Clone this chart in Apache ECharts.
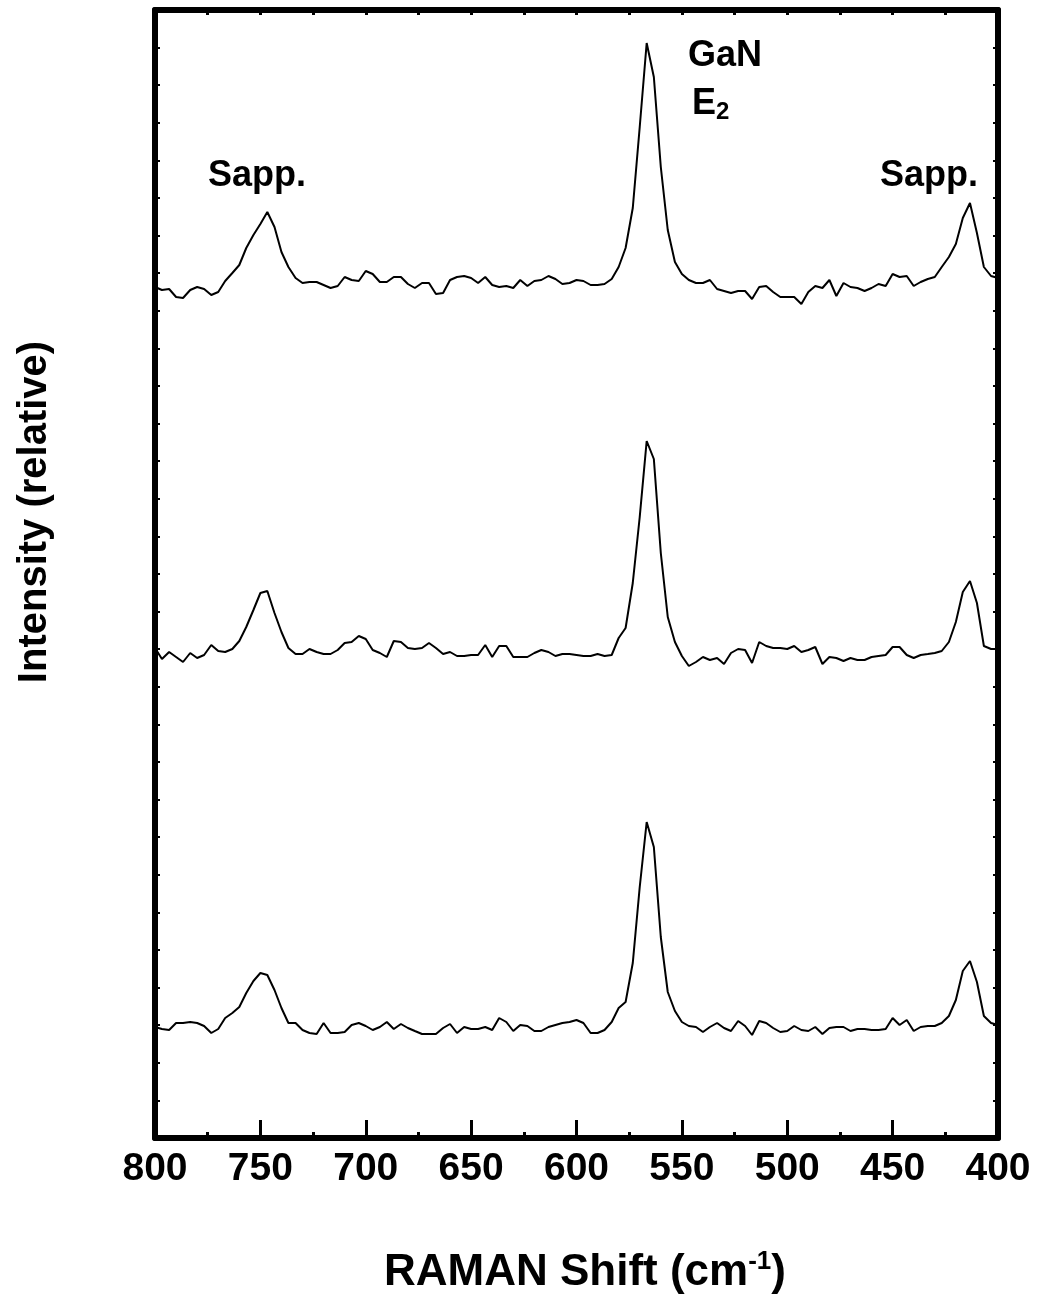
<!DOCTYPE html>
<html>
<head>
<meta charset="utf-8">
<script src="https://cdn.jsdelivr.net/npm/echarts@6/dist/echarts.min.js"></script>
<style>
  html, body { margin: 0; padding: 0; background: #fff; }
  #chart { width: 1040px; height: 1308px; }
</style>
</head>
<body>
<div id="chart"></div>
<script>
// Raman shift (cm-1), same grid for all three spectra
var shift = [
  800, 796.7, 793.3, 790, 786.7, 783.3, 780, 776.7, 773.3, 770,
  766.7, 763.3, 760, 756.7, 753.3, 750, 746.7, 743.3, 740, 736.7,
  733.3, 730, 726.7, 723.3, 720, 716.7, 713.3, 710, 706.7, 703.3,
  700, 696.7, 693.3, 690, 686.7, 683.3, 680, 676.7, 673.3, 670,
  666.7, 663.3, 660, 656.7, 653.3, 650, 646.7, 643.3, 640, 636.7,
  633.3, 630, 626.7, 623.3, 620, 616.7, 613.3, 610, 606.7, 603.3,
  600, 596.7, 593.3, 590, 586.7, 583.3, 580, 576.7, 573.3, 570,
  566.7, 563.3, 560, 556.7, 553.3, 550, 546.7, 543.3, 540, 536.7,
  533.3, 530, 526.7, 523.3, 520, 516.7, 513.3, 510, 506.7, 503.3,
  500, 496.7, 493.3, 490, 486.7, 483.3, 480, 476.7, 473.3, 470,
  466.7, 463.3, 460, 456.7, 453.3, 450, 446.7, 443.3, 440, 436.7,
  433.3, 430, 426.7, 423.3, 420, 416.7, 413.3, 410, 406.7, 403.3,
  400
];

// relative intensity, stacked traces (top, middle, bottom)
var topTrace = [
  851, 848, 849, 841, 840, 848, 851, 849, 843, 846,
  857, 865, 873, 890, 903, 914, 926, 911, 886, 871,
  860, 855, 856, 856, 853, 850, 852, 861, 858, 857,
  867, 864, 856, 856, 861, 861, 854, 850, 855, 855,
  844, 845, 858, 861, 862, 860, 855, 861, 853, 851,
  852, 850, 858, 852, 857, 858, 862, 859, 854, 855,
  858, 857, 853, 853, 854, 859, 871, 890, 930, 1011,
  1095, 1061, 971, 908, 876, 864, 858, 855, 855, 858,
  849, 847, 845, 847, 847, 839, 851, 852, 846, 841,
  841, 841, 834, 846, 852, 850, 858, 842, 855, 851,
  850, 847, 850, 854, 852, 864, 861, 862, 852, 856,
  859, 861, 871, 881, 894, 920, 935, 905, 871, 862,
  860
];

var middleTrace = [
  490, 479, 486, 481, 476, 485, 480, 483, 493, 487,
  486, 489, 497, 511, 528, 545, 547, 525, 506, 490,
  484, 484, 489, 486, 484, 484, 488, 495, 496, 502,
  499, 488, 485, 481, 497, 496, 490, 489, 490, 495,
  490, 484, 486, 482, 482, 483, 483, 493, 481, 492,
  492, 481, 481, 481, 485, 488, 486, 482, 484, 484,
  483, 482, 482, 484, 482, 483, 500, 510, 555, 621,
  697, 679, 585, 521, 496, 482, 472, 476, 481, 478,
  480, 474, 485, 489, 488, 475, 496, 492, 490, 490,
  489, 492, 486, 488, 491, 474, 481, 480, 477, 480,
  478, 478, 481, 482, 483, 491, 491, 483, 480, 483,
  484, 485, 487, 496, 516, 546, 557, 535, 492, 489,
  489
];

var bottomTrace = [
  111, 109, 108, 115, 115, 116, 115, 112, 105, 109,
  120, 125, 131, 145, 157, 165, 163, 148, 130, 115,
  115, 108, 105, 104, 115, 105, 105, 106, 113, 115,
  112, 108, 111, 116, 109, 114, 110, 107, 104, 104,
  104, 110, 114, 105, 111, 109, 109, 111, 108, 120,
  116, 107, 113, 112, 107, 107, 111, 113, 115, 116,
  118, 115, 105, 105, 108, 116, 130, 136, 175, 251,
  316, 291, 201, 146, 127, 116, 112, 111, 106, 111,
  115, 110, 107, 117, 112, 103, 117, 115, 110, 106,
  107, 112, 108, 107, 111, 104, 110, 111, 111, 107,
  109, 109, 108, 108, 109, 120, 113, 118, 107, 111,
  112, 112, 115, 122, 138, 167, 177, 156, 122, 115,
  113
];

var font = '"Liberation Sans", Arial, Helvetica, sans-serif';

function pairs(ys) {
  return shift.map(function (x, i) { return [x, ys[i]]; });
}

function traceSeries(name, ys) {
  return {
    name: name,
    type: 'line',
    data: pairs(ys),
    showSymbol: false,
    lineStyle: { color: '#000', width: 2 },
    z: 2
  };
}

function shiftAxis(pos, step, tickLen, showLine, showLabel) {
  return {
    type: 'value',
    position: pos,
    min: 400,
    max: 800,
    interval: step,
    inverse: true,
    axisLine: { show: showLine, onZero: false, lineStyle: { color: '#000', width: 6 } },
    axisTick: { show: true, inside: true, length: tickLen, lineStyle: { color: '#000', width: 3 } },
    splitLine: { show: false },
    axisLabel: {
      show: showLabel,
      color: '#000',
      fontSize: 39,
      fontWeight: 'bold',
      fontFamily: font,
      margin: 12
    }
  };
}

function intensityAxis(pos) {
  return {
    type: 'value',
    position: pos,
    min: 0,
    max: 1128,
    interval: 37.6,
    axisLine: { show: true, onZero: false, lineStyle: { color: '#000', width: 6 } },
    axisTick: { show: true, inside: true, length: 5, lineStyle: { color: '#000', width: 2 } },
    splitLine: { show: false },
    axisLabel: { show: false }
  };
}

option = {
    backgroundColor: '#fff',
    animation: false,
    grid: {
        left: 155,
        right: 42,
        top: 10,
        bottom: 170
    },
    xAxis: [
        shiftAxis('bottom', 50, 18, true, true),
        shiftAxis('bottom', 25, 6, false, false),
        shiftAxis('top', 25, 5, true, false)
    ],
    yAxis: [
        intensityAxis('left'),
        intensityAxis('right')
    ],
    series: [
        traceSeries('top', topTrace),
        traceSeries('middle', middleTrace),
        traceSeries('bottom', bottomTrace)
    ],
    graphic: [
        {
            type: 'text', x: 35, y: 512, rotation: Math.PI / 2,
            style: { text: 'Intensity (relative)', font: 'bold 40px ' + font, fill: '#000', align: 'center', verticalAlign: 'middle' }
        },
        {
            type: 'text', x: 585, y: 1273,
            style: {
                text: '{b|RAMAN Shift (cm}{s|-1}{b|)}',
                align: 'center', verticalAlign: 'middle',
                rich: {
                    b: { font: 'bold 44px ' + font, fill: '#000' },
                    s: { font: 'bold 26px ' + font, fill: '#000', padding: [0, 0, 22, 0] }
                }
            }
        },
        {
            type: 'text', x: 208, y: 176,
            style: { text: 'Sapp.', font: 'bold 36px ' + font, fill: '#000', align: 'left', verticalAlign: 'middle' }
        },
        {
            type: 'text', x: 880, y: 176,
            style: { text: 'Sapp.', font: 'bold 36px ' + font, fill: '#000', align: 'left', verticalAlign: 'middle' }
        },
        {
            type: 'text', x: 688, y: 56,
            style: { text: 'GaN', font: 'bold 36px ' + font, fill: '#000', align: 'left', verticalAlign: 'middle' }
        },
        {
            type: 'text', x: 692, y: 104,
            style: {
                text: '{b|E}{s|2}',
                align: 'left', verticalAlign: 'middle',
                rich: {
                    b: { font: 'bold 36px ' + font, fill: '#000' },
                    s: { font: 'bold 24px ' + font, fill: '#000', padding: [16, 0, 0, 0] }
                }
            }
        }
    ]
};

var chart = echarts.init(document.getElementById('chart'));
chart.setOption(option);
</script>
</body>
</html>
